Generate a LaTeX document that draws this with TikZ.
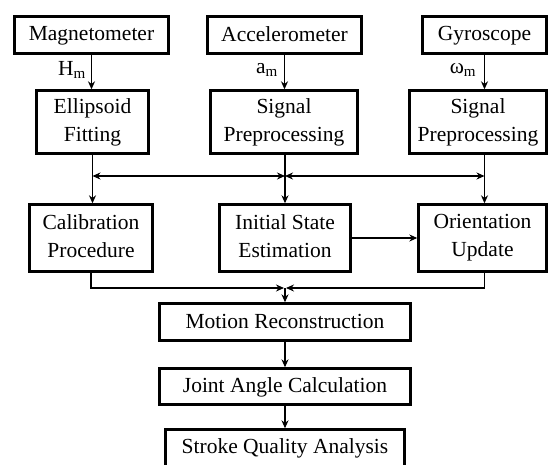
\documentclass[tikz,border=0pt]{standalone}
\usepackage{fontspec}
\setmainfont{Liberation Serif}
\usetikzlibrary{arrows.meta}

\newcommand{\boxstrut}{\rule[-4pt]{0pt}{20pt}}

\begin{document}
\begin{tikzpicture}[x=1pt,y=-1pt,>={Stealth[length=8pt,width=7pt]},
    box/.style={draw,line width=2.4pt,align=center,inner sep=0pt,
        font=\fontsize{21.5}{28}\selectfont,
        execute at begin node=\boxstrut,execute at end node=\boxstrut},
    sig/.style={font=\fontsize{21.5}{24}\selectfont},
    flow/.style={line width=1.2pt}]
    \useasboundingbox (0,0) rectangle (549,464);
    \clip (0,0) rectangle (549,464);

    % sensors
    \node[box,minimum width=154pt,minimum height=37pt] (mag) at (91.5,35) {Magnetometer};
    \node[box,minimum width=154pt,minimum height=37pt] (acc) at (284.5,35) {Accelerometer};
    \node[box,minimum width=124pt,minimum height=37pt] (gyr) at (484.5,35) {Gyroscope};

    % preprocessing
    \node[box,minimum width=112pt,minimum height=63pt] (ell) at (92.5,122) {Ellipsoid\\Fitting};
    \node[box,minimum width=147pt,minimum height=63pt] (pre1) at (284,122) {Signal\\Preprocessing};
    \node[box,minimum width=137pt,minimum height=63pt] (pre2) at (478,122) {Signal\\Preprocessing};

    % estimation
    \node[box,minimum width=123pt,minimum height=67pt] (cal) at (91,238) {Calibration\\Procedure};
    \node[box,minimum width=131pt,minimum height=67pt] (ini) at (285,238) {Initial State\\Estimation};
    \node[box,minimum width=128pt,minimum height=67pt] (ori) at (482.5,238) {Orientation\\Update};

    % output chain
    \node[box,minimum width=251pt,minimum height=37pt] (mot) at (285,322) {Motion Reconstruction};
    \node[box,minimum width=251pt,minimum height=36pt] (joi) at (285,386.5) {Joint Angle Calculation};
    \node[box,minimum width=239pt,minimum height=37pt] (str) at (285,448) {Stroke Quality Analysis};

    \node[sig] (hm) at (72,70) {H\textsubscript{m}};
    \node[sig] (am) at (267,70) {a\textsubscript{m}};
    \node[sig] (wm) at (463,70) {ω\textsubscript{m}};

    \coordinate (busL) at (ell.south |- 0,176);
    \coordinate (busM) at (ini.north |- 0,176);
    \coordinate (busR) at (gyr.south |- 0,176);
    \coordinate (mrgL) at (cal.south |- 0,288);
    \coordinate (mrgM) at (mot.north |- 0,288);
    \coordinate (mrgR) at (gyr.south |- 0,288);

    \draw[flow,->] (mag.south) -- (mag.south |- ell.north);
    \draw[flow,->] (acc.south) -- (acc.south |- pre1.north);
    \draw[flow,->] (gyr.south) -- (gyr.south |- pre2.north);

    \draw[flow,->] (busL |- ell.south) -- (busL |- cal.north);
    \draw[flow,->] (busM |- pre1.south) -- (ini.north);
    \draw[flow,->] (busR |- pre2.south) -- (busR |- ori.north);
    \draw[flow,<->] (busL) -- (busM);
    \draw[flow,<->] (busM) -- (busR);

    \draw[flow,->] (ini.east) -- (ori.west |- ini.east);

    \draw[flow,->] (mrgL |- cal.south) -- (mrgL) -- ([xshift=-1pt]mrgM);
    \draw[flow,->] (mrgR |- ori.south) -- (mrgR) -- ([xshift=1pt]mrgM);
    \draw[flow,->] (mrgM) -- (mot.north);
    \draw[flow,->] (mot) -- (joi);
    \draw[flow,->] (joi) -- (str);
\end{tikzpicture}
\end{document}
